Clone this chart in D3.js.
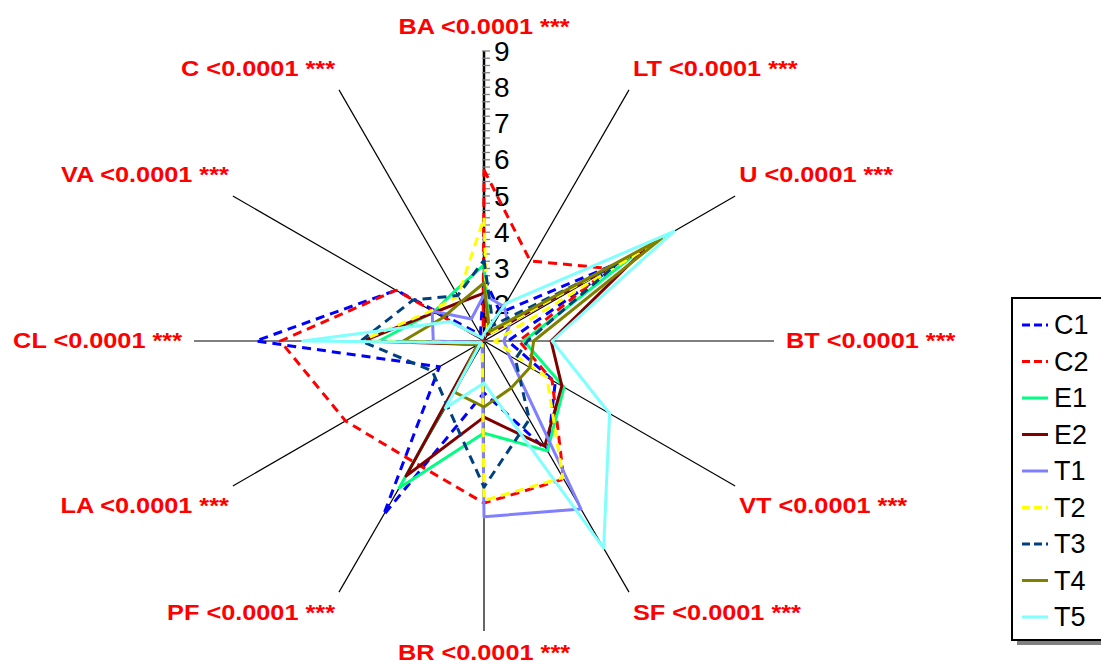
<!DOCTYPE html>
<html>
<head>
<meta charset="utf-8">
<script src="https://cdn.jsdelivr.net/npm/d3@7"></script>
<style>
  body { margin: 0; background: #fff; }
  svg { display: block; font-family: "Liberation Sans", Arial, sans-serif; }
</style>
</head>
<body>
<svg id="chart" width="1101" height="661"></svg>
<script>
// axis names, clockwise from the top
const axes = ["BA", "LT", "U", "BT", "VT", "SF", "BR", "PF", "LA", "CL", "VA", "C"];
const axisNotes = ["<0.0001 ***", "<0.0001 ***", "<0.0001 ***", "<0.0001 ***", "<0.0001 ***", "<0.0001 ***",
                   "<0.0001 ***", "<0.0001 ***", "<0.0001 ***", "<0.0001 ***", "<0.0001 ***", "<0.0001 ***"];
const tickLabels = [2, 3, 4, 5, 6, 7, 8, 9];

const seriesNames = ["C1", "C2", "E1", "E2", "T1", "T2", "T3", "T4", "T5"];
const C1 = [2.75, 1.9, 5.4, 1.66, 3.27, 4.5, 2.43, 6.55, 2.42, 7.3, 3.8, 1.2];
const C2 = [5.72, 3.55, 5.0, 1.97, 3.17, 5.4, 5.47, 4.86, 5.41, 6.62, 3.8, 1.05];
const E1 = [3.1, 1.3, 5.9, 2.1, 3.55, 4.5, 3.54, 5.68, 1.15, 3.9, 2.6, 2.6];
const E2 = [2.32, 1.2, 6.2, 2.85, 3.48, 4.35, 3.1, 5.3, 1.2, 4.34, 2.58, 2.25];
const T1 = [2.27, 2.1, 1.8, 1.55, 1.8, 6.35, 5.85, 1.1, 1.1, 2.4, 2.65, 1.7];
const T2 = [4.4, 1.2, 6.7, 1.3, 3.0, 5.35, 5.4, 1.1, 1.1, 4.4, 2.67, 2.43];
const T3 = [3.23, 1.5, 5.2, 2.2, 2.0, 3.5, 5.03, 3.04, 2.65, 4.4, 3.26, 2.45];
const T4 = [2.6, 1.3, 6.66, 2.37, 2.46, 2.5, 2.82, 2.63, 1.2, 3.23, 2.3, 2.25];
const T5 = [1.2, 2.2, 7.05, 2.88, 5.0, 7.6, 2.16, 3.13, 1.1, 6.0, 2.07, 1.1];
const seriesValues = [C1, C2, E1, E2, T1, T2, T3, T4, T5];

const colors = ["#0000ff", "#ff0000", "#00ff80", "#800000", "#8080ff", "#ffff00", "#004080", "#808000", "#80ffff"];
const dashed = [true, true, false, false, false, true, true, false, false];

const cx = 484, cy = 341, R = 290;
const svg = d3.select("#chart");

const r = d3.scaleLinear().domain([1, 9]).range([0, R]);
const angle = d3.scalePoint().domain(axes).range([0, 2 * Math.PI * 11 / 12]);

const g = svg.append("g").attr("transform", "translate(" + cx + "," + cy + ")");

// spokes
g.selectAll(".spoke")
  .data(axes)
  .enter()
  .append("line")
  .attr("x1", 0).attr("y1", 0)
  .attr("x2", d => R * Math.sin(angle(d)))
  .attr("y2", d => -R * Math.cos(angle(d)))
  .attr("stroke", "#000")
  .attr("stroke-width", d => d === "BA" ? 2.5 : 1.2);

// ticks on the BA axis
const minor = d3.range(1, 9.001, 0.2);
g.selectAll(".minor")
  .data(minor)
  .enter()
  .append("line")
  .attr("x1", -2).attr("x2", 6)
  .attr("y1", d => -r(d)).attr("y2", d => -r(d))
  .attr("stroke", "#808080")
  .attr("stroke-width", 1.3);

g.selectAll(".tickLabel")
  .data(tickLabels)
  .enter()
  .append("text")
  .attr("x", 10)
  .attr("y", d => -r(d))
  .attr("dominant-baseline", "central")
  .attr("font-size", 28)
  .attr("fill", "#000")
  .text(d => d);

// series
const radial = d3.lineRadial()
  .angle((d, i) => angle(axes[i]))
  .radius(d => r(d))
  .curve(d3.curveLinearClosed);

g.selectAll(".series")
  .data(seriesValues)
  .enter()
  .append("path")
  .attr("d", d => radial(d))
  .attr("fill", "none")
  .attr("stroke", (d, i) => colors[i])
  .attr("stroke-width", 3)
  .attr("stroke-linejoin", "round")
  .attr("stroke-dasharray", (d, i) => dashed[i] ? "9,6" : null);

// axis labels
g.selectAll(".axisLabel")
  .data(axes)
  .enter()
  .append("text")
  .attr("transform", d => {
    const a = angle(d);
    const s = Math.sin(a), c = Math.cos(a);
    let x = R * s, y = -R * c;
    if (Math.abs(s) < 0.1) y += c > 0 ? -24 : 22;
    else {
      x += (s > 0 ? 1 : -1) * (Math.abs(c) < 0.1 ? 12 : 4);
      if (Math.abs(c) > 0.1) y += c > 0 ? -21 : 20;
    }
    return "translate(" + x + "," + y + ") scale(1.15,1)";
  })
  .attr("text-anchor", d => {
    const s = Math.sin(angle(d));
    return Math.abs(s) < 0.1 ? "middle" : (s > 0 ? "start" : "end");
  })
  .attr("dominant-baseline", "central")
  .attr("font-size", 22)
  .attr("font-weight", "bold")
  .attr("fill", "#ff0000")
  .text((d, i) => d + " " + axisNotes[i]);

// legend
const lx = 1012, ly = 298, lw = 110, lh = 342;
svg.append("rect")
  .attr("x", lx + 5).attr("y", ly + 5)
  .attr("width", lw).attr("height", lh)
  .attr("fill", "#808080");
svg.append("rect")
  .attr("x", lx).attr("y", ly)
  .attr("width", lw).attr("height", lh)
  .attr("fill", "#fff")
  .attr("stroke", "#000")
  .attr("stroke-width", 2);

const item = svg.selectAll(".legendItem")
  .data(seriesNames)
  .enter()
  .append("g")
  .attr("transform", (d, i) => "translate(" + lx + "," + (ly + 27 + i * 36.5) + ")");

item.append("line")
  .attr("x1", 10).attr("x2", 36)
  .attr("y1", 0).attr("y2", 0)
  .attr("stroke", (d, i) => colors[i])
  .attr("stroke-width", 3)
  .attr("stroke-dasharray", (d, i) => dashed[i] ? "8,4" : null);

item.append("text")
  .attr("x", 42)
  .attr("y", 0)
  .attr("dominant-baseline", "central")
  .attr("font-size", 27)
  .attr("fill", "#000")
  .text(d => d);
</script>
</body>
</html>
